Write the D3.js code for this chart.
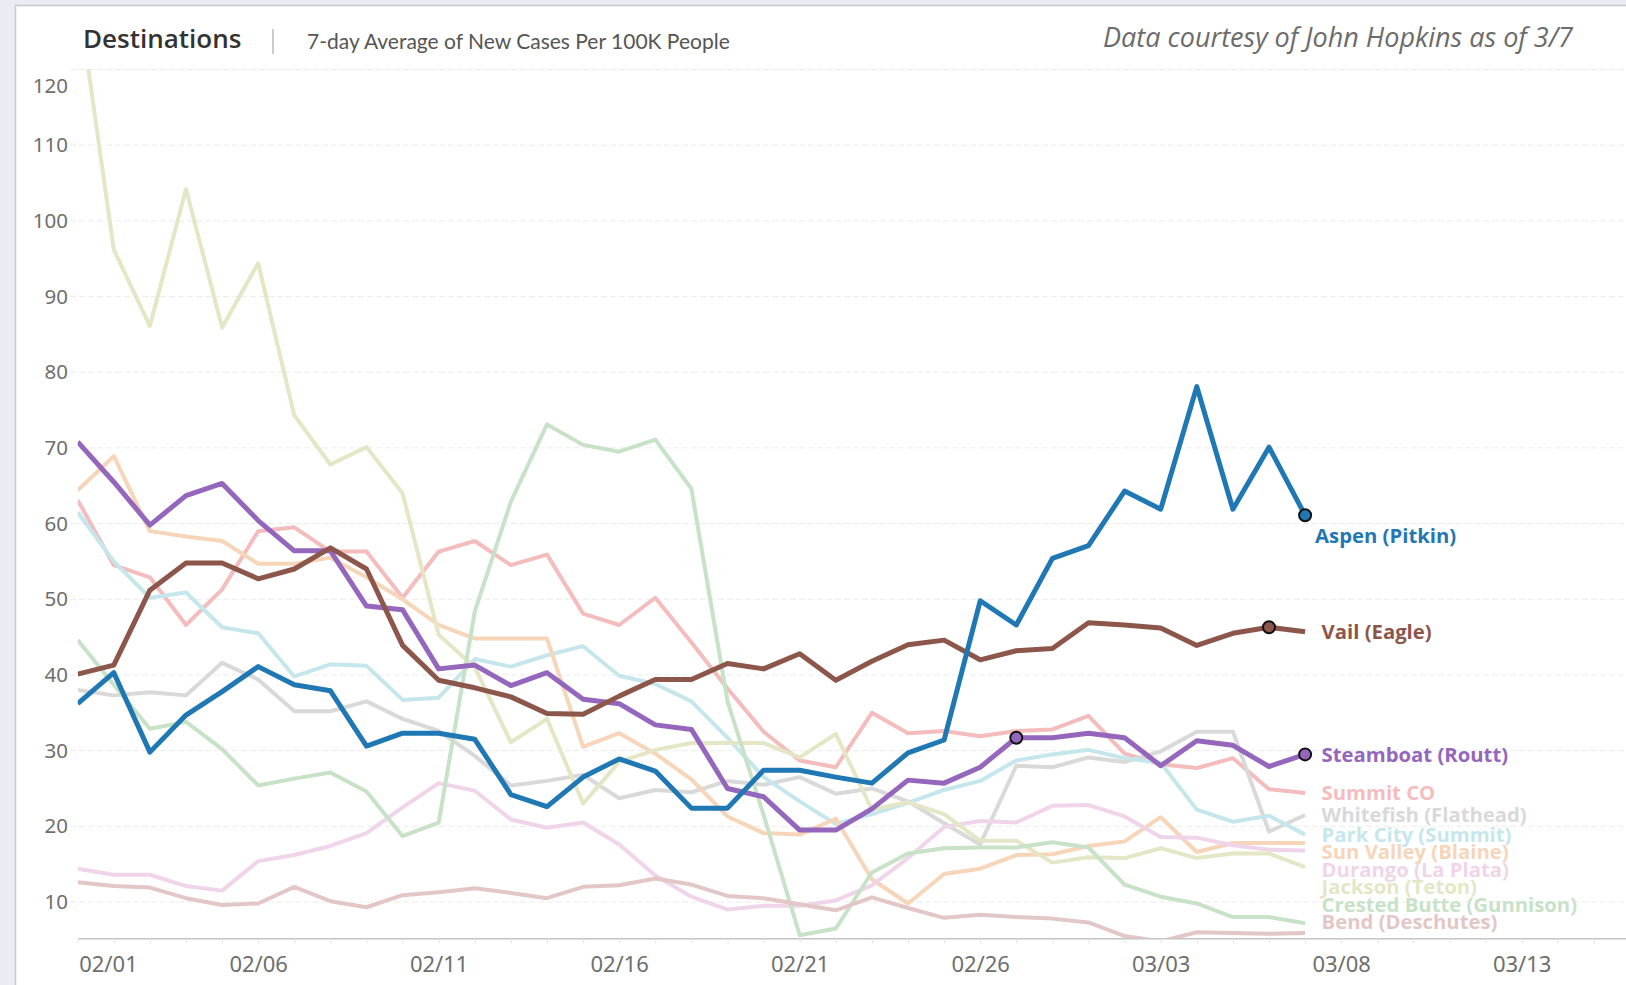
<!DOCTYPE html>
<html>
<head>
<meta charset="utf-8">
<script src="https://cdn.jsdelivr.net/npm/d3@7"></script>
<style>
  body { margin: 0; background: #e9edf3; }
  svg { display: block; }
</style>
</head>
<body>
<div id="chart"></div>
<script>
// Dates: 02/01 .. 03/07 (2021), one value per day
const dates = d3.timeDays(new Date(2021, 1, 1), new Date(2021, 2, 8));

// 7-day average of new cases per 100K people
const aspen = [36.2, 40.3, 29.8, 34.7, 37.8, 41.1, 38.7, 37.9, 30.6, 32.3, 32.3, 31.5, 24.2, 22.6, 26.5, 28.9, 27.3, 22.4, 22.4, 27.4, 27.4, 26.5, 25.7, 29.7, 31.4, 49.8, 46.6, 55.4, 57.1, 64.3, 61.9, 78.1, 61.9, 70.1, 61.1];
const vail = [40.1, 41.3, 51.2, 54.8, 54.8, 52.7, 54.0, 56.8, 54.0, 43.9, 39.3, 38.3, 37.1, 34.9, 34.8, 37.2, 39.4, 39.4, 41.5, 40.8, 42.8, 39.3, 41.8, 44.0, 44.6, 42.0, 43.2, 43.5, 46.9, 46.6, 46.2, 43.9, 45.5, 46.3, 45.7];
const steamboat = [70.8, 65.5, 59.8, 63.7, 65.3, 60.4, 56.4, 56.4, 49.1, 48.6, 40.8, 41.3, 38.6, 40.3, 36.8, 36.2, 33.4, 32.8, 25.0, 23.9, 19.5, 19.5, 22.3, 26.1, 25.7, 27.8, 31.7, 31.7, 32.3, 31.7, 28.0, 31.3, 30.7, 27.9, 29.5];
const summitCO = [63.1, 54.5, 52.9, 46.6, 51.3, 59.0, 59.5, 56.3, 56.3, 50.2, 56.3, 57.7, 54.5, 55.9, 48.1, 46.6, 50.2, 44.3, 38.2, 32.5, 28.7, 27.8, 35.0, 32.3, 32.6, 31.9, 32.6, 32.8, 34.6, 29.6, 28.2, 27.7, 29.0, 24.9, 24.4];
const whitefish = [38.0, 37.3, 37.7, 37.3, 41.6, 39.4, 35.2, 35.2, 36.5, 34.2, 32.6, 29.3, 25.4, 26.0, 26.8, 23.7, 24.8, 24.5, 26.0, 25.5, 26.5, 24.3, 25.0, 23.3, 20.4, 17.6, 28.0, 27.8, 29.1, 28.5, 29.9, 32.5, 32.5, 19.3, 21.5];
const parkCity = [61.5, 55.0, 50.2, 50.9, 46.3, 45.5, 39.8, 41.4, 41.2, 36.7, 37.0, 42.1, 41.1, 42.6, 43.8, 39.9, 38.8, 36.5, 31.7, 26.5, 23.3, 20.3, 21.6, 23.1, 24.8, 26.0, 28.7, 29.5, 30.1, 29.0, 28.4, 22.2, 20.6, 21.4, 18.9];
const sunValley = [64.4, 68.9, 59.0, 58.3, 57.7, 54.7, 54.7, 55.5, 52.9, 50.0, 46.6, 44.8, 44.8, 44.8, 30.5, 32.3, 29.6, 26.2, 21.3, 19.1, 18.9, 21.0, 13.0, 9.8, 13.7, 14.4, 16.2, 16.3, 17.4, 18.0, 21.2, 16.6, 17.8, 17.8, 17.8];
const durango = [14.4, 13.6, 13.6, 12.1, 11.5, 15.4, 16.2, 17.4, 19.1, 22.5, 25.7, 24.7, 20.9, 19.8, 20.5, 17.6, 13.5, 10.7, 9.0, 9.5, 9.5, 10.2, 12.2, 15.8, 19.9, 20.7, 20.5, 22.7, 22.8, 21.3, 18.6, 18.5, 17.5, 16.9, 16.8];
const jackson = [130, 96.2, 86.1, 104.2, 85.9, 94.4, 74.3, 67.8, 70.1, 64.0, 45.3, 41.0, 31.1, 34.2, 23.0, 28.5, 30.1, 31.0, 31.0, 31.0, 29.1, 32.2, 22.2, 23.2, 21.6, 18.1, 18.1, 15.2, 15.9, 15.8, 17.1, 15.8, 16.4, 16.4, 14.6];
const crestedButte = [44.6, 38.7, 32.9, 33.8, 30.2, 25.4, 26.3, 27.1, 24.6, 18.7, 20.5, 48.4, 62.9, 73.1, 70.4, 69.5, 71.1, 64.6, 36.5, 21.5, 5.6, 6.5, 13.9, 16.4, 17.1, 17.2, 17.2, 17.9, 17.2, 12.3, 10.7, 9.8, 8.0, 8.0, 7.2];
const bend = [12.6, 12.1, 11.9, 10.5, 9.6, 9.8, 12.0, 10.1, 9.3, 10.9, 11.3, 11.8, 11.2, 10.5, 12.0, 12.2, 13.1, 12.3, 10.8, 10.5, 9.7, 8.9, 10.6, 9.2, 7.9, 8.3, 8.0, 7.8, 7.3, 5.5, 4.8, 6.0, 5.9, 5.8, 5.9];

const yTicks = [10, 20, 30, 40, 50, 60, 70, 80, 90, 100, 110, 120];

// faded destinations (drawn first), then highlighted ones
const series = [
  {name: 'Summit CO', values: summitCO, color: '#f4bcbc', hi: false},
  {name: 'Whitefish (Flathead)', values: whitefish, color: '#d9d9d9', hi: false},
  {name: 'Park City (Summit)', values: parkCity, color: '#c5e7ec', hi: false},
  {name: 'Sun Valley (Blaine)', values: sunValley, color: '#f6d5b9', hi: false},
  {name: 'Durango (La Plata)', values: durango, color: '#f0d5ea', hi: false},
  {name: 'Jackson (Teton)', values: jackson, color: '#e5e6c6', hi: false},
  {name: 'Crested Butte (Gunnison)', values: crestedButte, color: '#c7e2c7', hi: false},
  {name: 'Bend (Deschutes)', values: bend, color: '#e3c7c6', hi: false},
  {name: 'Steamboat (Routt)', values: steamboat, color: '#9467bd', hi: true, dots: [26, 34]},
  {name: 'Vail (Eagle)', values: vail, color: '#8c564b', hi: true, dots: [33]},
  {name: 'Aspen (Pitkin)', values: aspen, color: '#1f77b4', hi: true, dots: [34]}
];

let width = 1626, height = 985;
let plot = {left: 77.7, top: 69.5, bottom: 938.3, right: 1626};
let dayPx = 36.1;

let svg = d3.select('#chart')
  .append('svg')
  .attr('width', width)
  .attr('height', height);

// white panel with grey frame
svg.append('rect')
  .attr('x', 15.5).attr('y', 5.5)
  .attr('width', width).attr('height', height)
  .attr('fill', '#fff')
  .attr('stroke', '#c8c8c8')
  .attr('stroke-width', 1.5);

// scales
let x = d3.scaleTime()
  .domain([new Date(2021, 1, 1), new Date(2021, 2, 16)])
  .range([plot.left, plot.left + 43 * dayPx]);

let y = d3.scaleLinear()
  .domain([5.2, 120])
  .range([plot.bottom, plot.top]);

// dashed gridlines
svg.append('g')
  .selectAll('line')
  .data(yTicks)
  .enter()
  .append('line')
  .attr('x1', 70).attr('x2', width)
  .attr('y1', d => y(d)).attr('y2', d => y(d))
  .attr('stroke', '#ececec')
  .attr('stroke-width', 1)
  .attr('stroke-dasharray', '6,3');

// y axis labels (top one is pushed inside the pane like Tableau does)
let yAxis = svg.append('g')
  .attr('transform', `translate(68,0)`)
  .call(d3.axisLeft(y).tickValues(yTicks).tickSize(0).tickPadding(0));
yAxis.select('.domain').remove();
yAxis.selectAll('text')
  .attr('fill', '#6e6e6e')
  .style('font-family', 'Noto Sans, sans-serif')
  .style('font-size', '20.5px')
  .attr('transform', d => d === 120 ? 'translate(0,16)' : null);

// x axis: daily minor ticks
let minor = svg.append('g')
  .attr('transform', `translate(0,${plot.bottom})`)
  .call(d3.axisBottom(x)
    .tickValues(d3.timeDays(new Date(2021, 1, 1), new Date(2021, 2, 17)))
    .tickSize(5).tickSizeOuter(0).tickFormat(''));
minor.select('.domain').attr('stroke', '#c4c4c4').attr('stroke-width', 1.5);
minor.selectAll('.tick line').attr('stroke', '#e2e2e2');

// x axis labels every 5 days
let labelDates = d3.timeDay.range(new Date(2021, 1, 1), new Date(2021, 2, 16), 5);
let xAxis = svg.append('g')
  .attr('transform', `translate(0,${plot.bottom})`)
  .call(d3.axisBottom(x).tickValues(labelDates).tickSize(0).tickSizeOuter(0)
    .tickPadding(18).tickFormat(d3.timeFormat('%m/%d')));
xAxis.select('.domain').remove();
xAxis.selectAll('text')
  .attr('fill', '#6e6e6e')
  .style('font-family', 'Noto Sans, sans-serif')
  .style('font-size', '22px');
xAxis.select('.tick text').attr('text-anchor', 'start').attr('x', 1);

// clip the lines to the pane
svg.append('clipPath').attr('id', 'pane')
  .append('rect')
  .attr('x', plot.left).attr('y', plot.top)
  .attr('width', plot.right - plot.left)
  .attr('height', plot.bottom - plot.top);

let line = d3.line()
  .x((d, i) => x(dates[i]))
  .y(d => y(d));

let lines = svg.append('g').attr('clip-path', 'url(#pane)');
series.forEach(s => {
  lines.append('path')
    .datum(s.values)
    .attr('fill', 'none')
    .attr('stroke', s.color)
    .attr('stroke-width', s.hi ? 5 : 4)
    .attr('stroke-linejoin', 'round')
    .attr('d', line);
});

// dots on the highlighted lines
series.filter(s => s.hi).forEach(s => {
  s.dots.forEach(i => {
    svg.append('circle')
      .attr('cx', x(dates[i]))
      .attr('cy', y(s.values[i]))
      .attr('r', 6)
      .attr('fill', s.color)
      .attr('stroke', '#111')
      .attr('stroke-width', 2);
  });
});

// end labels, pushed apart so they do not overlap
let last = dates.length - 1;
let labels = series.filter(s => s.name !== 'Aspen (Pitkin)')
  .map(s => ({s: s, ly: y(s.values[last])}))
  .sort((a, b) => a.ly - b.ly);
let gap = 17.5, maxY = 922;
for (let i = 1; i < labels.length; i++) {
  labels[i].ly = Math.max(labels[i].ly, labels[i - 1].ly + gap);
}
labels[labels.length - 1].ly = Math.min(labels[labels.length - 1].ly, maxY);
for (let i = labels.length - 2; i >= 0; i--) {
  labels[i].ly = Math.min(labels[i].ly, labels[i + 1].ly - gap);
}
let aspenS = series.find(s => s.name === 'Aspen (Pitkin)');
labels.push({s: aspenS, ly: y(aspenS.values[last]) + 21, dx: 10});

labels.forEach(l => {
  svg.append('text')
    .attr('x', x(dates[last]) + (l.dx || 16.5))
    .attr('y', l.ly)
    .attr('dy', '0.35em')
    .text(l.s.name)
    .attr('fill', l.s.color)
    .style('font-family', 'Open Sans, sans-serif')
    .style('font-weight', 'bold')
    .style('font-size', '20.3px');
});

// header
svg.append('text')
  .attr('x', 83).attr('y', 39)
  .attr('dy', '0.35em')
  .text('Destinations')
  .attr('fill', '#333')
  .style('font-family', 'Open Sans, sans-serif')
  .style('font-weight', 600)
  .style('font-size', '26px');

svg.append('line')
  .attr('x1', 273).attr('x2', 273)
  .attr('y1', 29).attr('y2', 54)
  .attr('stroke', '#bbb')
  .attr('stroke-width', 1.5);

svg.append('text')
  .attr('x', 307).attr('y', 41.5)
  .attr('dy', '0.35em')
  .text('7-day Average of New Cases Per 100K People')
  .attr('fill', '#555')
  .style('font-family', 'Lato, sans-serif')
  .style('font-size', '21px');

svg.append('text')
  .attr('x', 1573).attr('y', 38)
  .attr('dy', '0.35em')
  .attr('text-anchor', 'end')
  .text('Data courtesy of John Hopkins as of 3/7')
  .attr('fill', '#6b6b6b')
  .style('font-family', 'Open Sans, sans-serif')
  .style('font-style', 'italic')
  .style('font-size', '27px');
</script>
</body>
</html>
